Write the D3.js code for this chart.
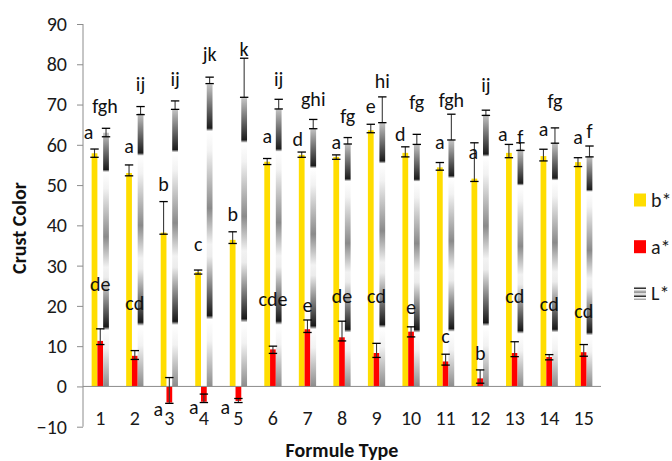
<!DOCTYPE html>
<html><head><meta charset="utf-8">
<script src="https://cdn.jsdelivr.net/npm/d3@7"></script>
<style>
html,body{margin:0;padding:0;background:#fff;}
svg{display:block;font-family:Carlito,Calibri,Lato,sans-serif;}
</style></head><body>
<svg id="chart" width="672" height="461"></svg>
<script>
// ---- data ----
const categories = ['1','2','3','4','5','6','7','8','9','10','11','12','13','14','15'];
const yTicks = [-10,0,10,20,30,40,50,60,70,80,90];
const seriesNames = ['b*','a*','L*'];

const bStar = [57.9,53.0,38.2,28.4,36.4,55.8,57.5,57.0,63.6,58.0,54.4,51.6,58.0,57.2,55.7];
const bHi   = [58.95,55.0,45.9,28.9,38.4,56.6,58.2,57.5,65.1,59.5,55.6,60.5,60.1,58.9,56.8];
const bLo   = [56.9,52.3,37.8,27.9,35.5,55.1,56.9,56.4,63.0,57.0,53.7,50.9,56.8,56.0,54.6];

const aStar = [11.3,7.6,-4.0,-3.8,-3.6,9.2,14.2,12.2,8.3,13.6,6.2,2.0,8.3,7.3,8.5];
const aHi   = [14.3,8.9,2.2,-1.9,-3.0,10.0,16.5,16.2,10.7,14.8,8.0,4.1,11.1,7.9,10.4];
const aLo   = [10.4,6.7,-4.2,-4.0,-4.0,8.2,13.4,11.3,7.2,12.3,5.3,0.8,7.4,6.6,7.5];

const lStar = [63.0,67.8,68.8,75.0,71.6,69.0,64.1,60.3,65.5,60.2,61.2,67.5,59.0,60.5,57.2];
const lHi   = [64.1,69.5,70.9,76.8,81.5,71.3,66.3,61.8,71.9,62.6,67.6,68.6,60.5,64.2,59.7];
const lLo   = [62.0,67.5,68.8,75.2,71.8,68.9,64.0,60.2,65.5,60.1,61.2,67.3,58.6,60.4,57.0];

// significance letters and the value height where each letter sits
const bLetters = ['a','a','b','c','b','a','d','a','e','d','a','a','a','a','a'];
const bLetterAt = [62.85,59.5,50.0,35.1,42.6,62.0,61.2,60.4,69.5,62.4,60.4,57.9,62.4,63.7,61.6];
const aLetters = ['de','cd','a','a','a','cde','e','de','cd','e','c','b','cd','cd','cd'];
const aLetterAt = [25.2,20.5,-5.9,-5.4,-5.4,21.5,20.0,22.3,22.3,19.6,12.3,8.0,22.3,20.2,18.5];
const lLetters = ['fgh','ij','ij','jk','k','ij','ghi','fg','hi','fg','fgh','ij','f','fg','f'];
const lLetterAt = [69.3,74.8,76.1,82.3,83.5,76.1,71.1,67.0,75.7,70.3,70.9,74.6,61.6,70.7,63.2];

// ---- chart ----
(function () {
const W = 672, H = 461;
const svg = d3.select('#chart');
svg.append('rect').attr('width', W).attr('height', H).attr('fill', '#fff');

const colors = {'b*':'#FFDD00','a*':'#FF0000'};
const defs = svg.append('defs');
const grad = defs.append('linearGradient').attr('id','lgrad')
  .attr('x1',0).attr('y1',0).attr('x2',0).attr('y2',1);
[[0,'#c4c4c4'],[0.145,'#1c1c1c'],[0.155,'#ffffff'],[0.22,'#f2f2f2'],[0.41,'#8a8a8a'],
 [0.53,'#f2f2f2'],[0.57,'#ececec'],[0.765,'#181818'],[0.778,'#ffffff'],[0.85,'#f2f2f2'],[1,'#8c8c8c']]
 .forEach(s => grad.append('stop').attr('offset', s[0]).attr('stop-color', s[1]));

const pLeft = 83, pRight = 601, pTop = 24, pBottom = 426.7;
const x = d3.scaleBand().domain(categories).range([pLeft, pRight]).paddingInner(0).paddingOuter(0);
const y = d3.scaleLinear().domain([-10, 90]).range([pBottom, pTop]);
const xs = d3.scaleBand().domain(seriesNames).range([0, x.bandwidth() / 2]);
const groupOff = x.bandwidth() / 4;
const bw = xs.bandwidth();
const cx = (cat, s) => x(cat) + groupOff + xs(s) + bw / 2;

const series = [
  {name:'b*', vals:bStar, hi:bHi, lo:bLo, letters:bLetters, at:bLetterAt, fill: colors['b*']},
  {name:'a*', vals:aStar, hi:aHi, lo:aLo, letters:aLetters, at:aLetterAt, fill: colors['a*']},
  {name:'L*', vals:lStar, hi:lHi, lo:lLo, letters:lLetters, at:lLetterAt, fill: 'url(#lgrad)'}
];

// bars
series.forEach(s => {
  svg.append('g').selectAll('rect').data(categories).join('rect')
    .attr('x', (c) => x(c) + groupOff + xs(s.name))
    .attr('width', bw)
    .attr('y', (c, i) => y(Math.max(0, s.vals[i])))
    .attr('height', (c, i) => Math.abs(y(s.vals[i]) - y(0)))
    .attr('fill', s.fill);
});

// axes
const yAxis = d3.axisLeft(y).tickValues(yTicks).tickSize(6).tickPadding(10).tickFormat(d3.format('d'));
const gy = svg.append('g').attr('transform', `translate(${pLeft},0)`).call(yAxis);
gy.select('.domain').remove();
gy.selectAll('.tick line').attr('stroke', '#8c8c8c');
gy.selectAll('.tick text').attr('fill', '#1a1a1a').attr('font-size', 20)
  .attr('font-family', 'Carlito,Calibri,Lato,sans-serif');
svg.append('line').attr('x1', pLeft).attr('x2', pLeft).attr('y1', pTop).attr('y2', pBottom)
  .attr('stroke', '#8c8c8c');
svg.append('line').attr('x1', pLeft).attr('x2', pRight).attr('y1', y(0)).attr('y2', y(0))
  .attr('stroke', '#8c8c8c');

// category labels
const xAxis = d3.axisBottom(x).tickSize(0).tickPadding(0);
const gx = svg.append('g').attr('transform', `translate(0,${pBottom - 12})`).call(xAxis);
gx.select('.domain').remove();
gx.selectAll('.tick text').attr('fill', '#1a1a1a').attr('font-size', 20)
  .attr('font-family', 'Carlito,Calibri,Lato,sans-serif').attr('dy', '0.5em');

// error bars
const cap = 4.2;
series.forEach(s => {
  const g = svg.append('g');
  categories.forEach((c, i) => {
    const xc = cx(c, s.name);
    g.append('line').attr('x1', xc).attr('x2', xc).attr('y1', y(s.hi[i])).attr('y2', y(s.lo[i]))
      .attr('stroke', '#3a3a3a').attr('stroke-width', 1.1);
    [s.hi[i], s.lo[i]].forEach(v => {
      g.append('line').attr('x1', xc - cap).attr('x2', xc + cap).attr('y1', y(v)).attr('y2', y(v))
        .attr('stroke', '#000').attr('stroke-width', 1.3);
    });
  });
});

// letter annotations (layout nudges to avoid overlaps, in px)
const tagNudge = {
  'b*': [-6,0,0,0,0,0,-4,0,0,-5,0,-1,-6,0,0],
  'a*': [0,0,-11,-10,-13,0,0,0,0,0,0,0,0,0,0],
  'L*': [-1,0,0,0,0,0,0,0,0,0,0,0,0,0,0]
};
series.forEach(s => {
  svg.append('g').selectAll('text').data(categories).join('text')
    .attr('x', (c, i) => cx(c, s.name) + tagNudge[s.name][i])
    .attr('y', (c, i) => y(s.at[i]))
    .attr('dy', '0.3em')
    .attr('text-anchor', 'middle')
    .attr('font-size', 20)
    .attr('fill', '#111')
    .text((c, i) => s.letters[i]);
});

// axis titles
svg.append('text').attr('transform', `translate(26,228) rotate(-90)`)
  .attr('text-anchor', 'middle').attr('font-size', 20).attr('font-weight', 'bold')
  .attr('fill', '#111').text('Crust Color');
svg.append('text').attr('x', (pLeft + pRight) / 2).attr('y', 457)
  .attr('text-anchor', 'middle').attr('font-size', 20).attr('font-weight', 'bold')
  .attr('fill', '#111').text('Formule Type');

// legend
const legend = svg.append('g');
series.forEach((s, i) => {
  const ly = 200 + i * 46.7;
  legend.append('rect').attr('x', 634).attr('y', ly - 6.5).attr('width', 12).attr('height', 13)
    .attr('fill', s.fill);
  legend.append('text').attr('x', 651).attr('y', ly).attr('dy', '0.35em')
    .attr('font-size', 20).attr('fill', '#1a1a1a').text(s.name);
});
})();
</script>
</body></html>
